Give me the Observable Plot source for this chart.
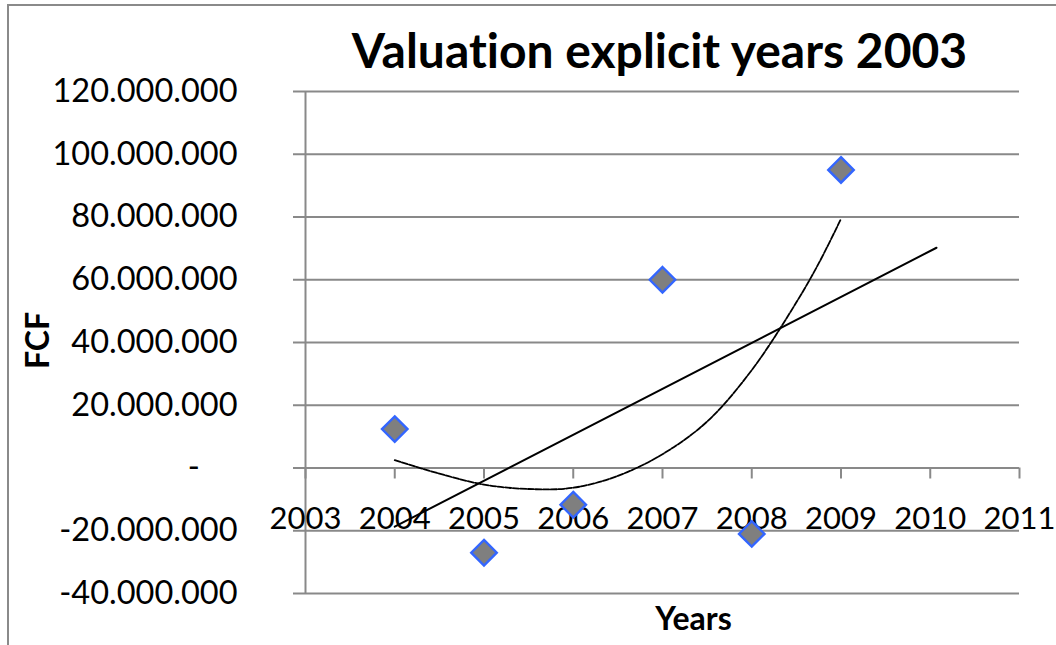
<!DOCTYPE html>
<html>
<head>
<meta charset="utf-8">
<script src="https://cdn.jsdelivr.net/npm/d3@7"></script>
<script src="https://cdn.jsdelivr.net/npm/@observablehq/plot@0.6"></script>
<style>
  html, body { margin: 0; padding: 0; background: #fff; overflow: hidden; }
  #chart { position: relative; width: 1056px; height: 645px; overflow: hidden; }
  #chart svg { position: absolute; left: 0; top: 0; font-variant-ligatures: none; }
  #chart .outline {
    position: absolute; left: 7px; top: 4px; width: 1200px; height: 800px;
    border-top: 2px solid #8a8a8a; border-left: 2px solid #8a8a8a;
  }
</style>
</head>
<body>
<div id="chart"><div class="outline"></div></div>
<script>
// Free cash flow per explicit forecast year
const years = [2004, 2005, 2006, 2007, 2008, 2009];
const fcf = [12.4e6, -27.0e6, -11.7e6, 60.0e6, -21.0e6, 95.0e6];

// Linear trend line (extends into 2010)
const linearTrendYears = [2004, 2010.07];
const linearTrendFcf = [-18.7e6, 70.2e6];

// Polynomial trend line
const polyTrendYears = [2004, 2004.5, 2005, 2005.5, 2006, 2006.5, 2007, 2007.5, 2008, 2008.5, 2008.75, 2009];
const polyTrendFcf = [2.5e6, -1.8e6, -5.3e6, -6.7e6, -6.3e6, -2.5e6, 4.4e6, 14.8e6, 31.2e6, 52.8e6, 65.2e6, 79.4e6];

// Axis ticks
const xTicks = [2003, 2004, 2005, 2006, 2007, 2008, 2009, 2010, 2011];
const yTicks = [-40e6, -20e6, 0, 20e6, 40e6, 60e6, 80e6, 100e6, 120e6];

const gray = "#898989";
const font = "Lato, 'Open Sans', sans-serif";

// Thousands separated with dots; zero shown as a dash
const fmtY = (v) => v === 0
  ? "-\u2007\u2007"
  : (v < 0 ? "-" : "") + d3.format(",")(Math.abs(v)).replace(/,/g, ".");

const points = years.map((year, i) => ({year, value: fcf[i]}));
const linear = linearTrendYears.map((year, i) => ({year, value: linearTrendFcf[i]}));
const poly = polyTrendYears.map((year, i) => ({year, value: polyTrendFcf[i]}));

const chart = Plot.plot({
  width: 1056,
  height: 645,
  marginLeft: 305,
  marginRight: 37,
  marginTop: 91,
  marginBottom: 52,
  style: {fontFamily: font, background: "transparent", color: "black"},
  x: {domain: [2003, 2011], axis: null},
  y: {domain: [-40e6, 120e6]},
  marks: [
    // horizontal gridlines (the 0 line doubles as the x axis)
    Plot.ruleY(yTicks, {stroke: gray, strokeWidth: 2}),
    // vertical axis line
    Plot.ruleX([2003], {stroke: gray, strokeWidth: 2}),
    Plot.axisY(yTicks, {
      anchor: "left", label: null, tickSize: 12, tickPadding: 56,
      tickFormat: fmtY, stroke: gray, strokeWidth: 2, fill: "black", fontSize: 32.5
    }),
    // x-axis tick marks hanging below the zero line
    Plot.ruleX(xTicks, {x: (d) => d, y1: 0, y2: 0, insetBottom: -11, stroke: gray, strokeWidth: 2}),
    Plot.text(xTicks, {x: (d) => d, y: 0, text: (d) => String(d), dy: 51, fontSize: 31, fill: "black"}),
    // data points
    Plot.dot(points, {
      x: "year", y: "value", symbol: "diamond2", r: 11.5,
      fill: "#7f7f7f", stroke: "#3366ff", strokeWidth: 2.4
    }),
    // trend lines
    Plot.line(linear, {x: "year", y: "value", stroke: "black", strokeWidth: 2}),
    Plot.line(poly, {
      x: "year", y: "value", curve: "catmull-rom",
      stroke: "black", strokeWidth: 1.8, strokeDasharray: "6,1.6"
    }),
    // titles
    Plot.text(["Valuation explicit years 2003"], {
      text: (d) => d, frameAnchor: "top", lineAnchor: "middle", dx: -3, dy: -39,
      fontSize: 48, fontWeight: "bold", fill: "black"
    }),
    Plot.text(["FCF"], {
      text: (d) => d, frameAnchor: "left", textAnchor: "middle", lineAnchor: "middle",
      rotate: -90, dx: -267, dy: -2, fontSize: 32, fontWeight: "bold", fill: "black"
    }),
    Plot.text(["Years"], {
      text: (d) => d, frameAnchor: "bottom", lineAnchor: "middle", dx: 31, dy: 26,
      fontSize: 32, fontWeight: "bold", fill: "black"
    })
  ]
});

document.getElementById("chart").prepend(chart);
</script>
</body>
</html>
